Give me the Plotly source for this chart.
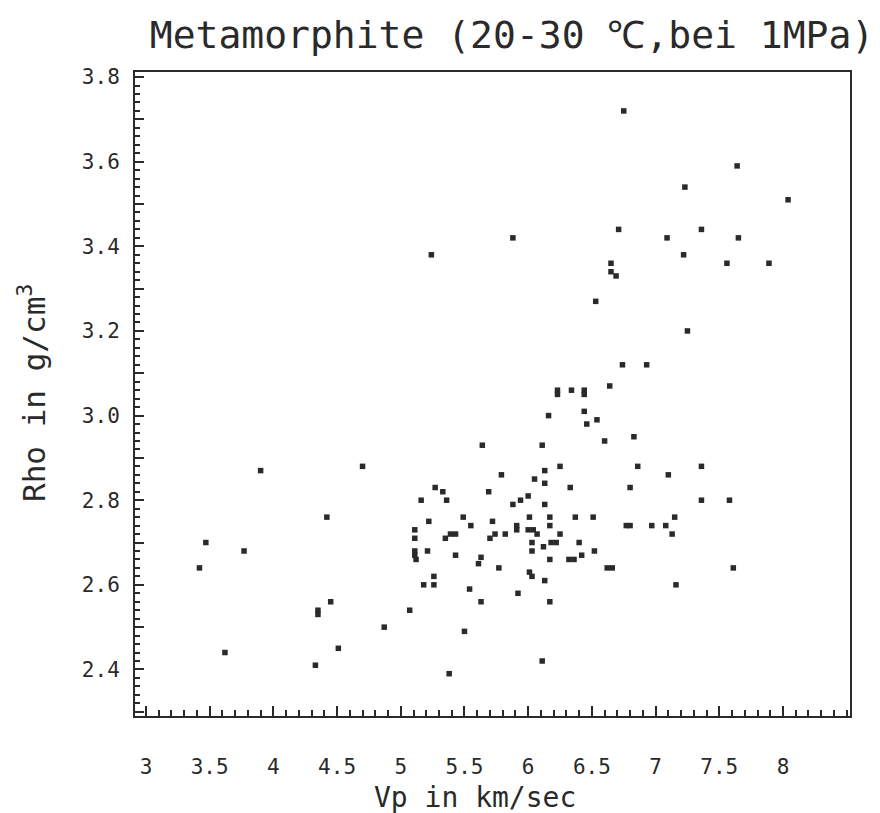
import plotly.graph_objects as go

vp = [5.24, 6.75, 7.64, 7.23, 8.04, 5.88, 6.71, 7.09, 7.36, 7.65,
      6.65, 6.65, 6.69, 7.22, 7.56, 7.89, 6.53, 7.25, 6.74, 6.93,
      6.64, 6.23, 6.23, 6.34, 6.44, 6.44, 6.16, 6.44, 6.46, 6.54,
      6.60, 6.83, 5.64, 6.11, 6.25, 6.86, 7.36, 5.79, 6.05, 6.13,
      6.13, 7.10, 6.33, 6.80, 5.69, 5.88, 5.94, 6.00, 6.13, 7.36,
      7.58, 5.72, 6.01, 6.17, 6.37, 6.51, 7.15, 5.91, 5.91, 6.00,
      6.04, 6.07, 6.17, 6.77, 6.80, 6.97, 7.08, 7.13, 5.70, 5.74,
      5.82, 6.25, 6.03, 6.12, 6.18, 6.22, 6.40, 6.03, 6.17, 6.32,
      6.36, 6.42, 6.52, 6.62, 6.66, 7.61, 5.77, 6.01, 6.03, 6.13,
      7.16, 5.92, 6.17, 5.63, 6.11,
      3.90, 4.70, 5.27, 5.33, 5.16, 5.36, 4.42, 5.22, 5.49, 5.55,
      5.11, 5.11, 5.35, 5.39, 5.43, 3.47, 3.77, 3.42, 5.21, 5.43,
      5.11, 5.11, 5.12, 5.61, 5.63, 5.26, 5.18, 5.26, 5.54, 4.45,
      4.35, 4.35, 5.07, 4.87, 5.50, 3.62, 4.51, 4.33, 5.38]

rho = [3.38, 3.72, 3.59, 3.54, 3.51, 3.42, 3.44, 3.42, 3.44, 3.42,
       3.36, 3.34, 3.33, 3.38, 3.36, 3.36, 3.27, 3.20, 3.12, 3.12,
       3.07, 3.06, 3.05, 3.06, 3.06, 3.05, 3.00, 3.01, 2.98, 2.99,
       2.94, 2.95, 2.93, 2.93, 2.88, 2.88, 2.88, 2.86, 2.85, 2.87,
       2.84, 2.86, 2.83, 2.83, 2.82, 2.79, 2.80, 2.81, 2.79, 2.80,
       2.80, 2.75, 2.76, 2.76, 2.76, 2.76, 2.76, 2.74, 2.73, 2.73,
       2.73, 2.72, 2.74, 2.74, 2.74, 2.74, 2.74, 2.72, 2.71, 2.72,
       2.72, 2.72, 2.70, 2.69, 2.70, 2.70, 2.70, 2.68, 2.66, 2.66,
       2.66, 2.67, 2.68, 2.64, 2.64, 2.64, 2.64, 2.63, 2.62, 2.61,
       2.60, 2.58, 2.56, 2.56, 2.42,
       2.87, 2.88, 2.83, 2.82, 2.80, 2.80, 2.76, 2.75, 2.76, 2.74,
       2.73, 2.71, 2.71, 2.72, 2.72, 2.70, 2.68, 2.64, 2.68, 2.67,
       2.68, 2.67, 2.66, 2.65, 2.665, 2.62, 2.60, 2.60, 2.59, 2.56,
       2.54, 2.53, 2.54, 2.50, 2.49, 2.44, 2.45, 2.41, 2.39]

x_tickvals = [3, 3.5, 4, 4.5, 5, 5.5, 6, 6.5, 7, 7.5, 8]
x_ticktext = ["3", "3.5", "4", "4.5", "5", "5.5", "6", "6.5", "7", "7.5", "8"]
y_tickvals = [2.4, 2.6, 2.8, 3.0, 3.2, 3.4, 3.6, 3.8]
y_ticktext = ["2.4", "2.6", "2.8", "3.0", "3.2", "3.4", "3.6", "3.8"]

title_text = "Metamorphite (20-30 ℃,bei 1MPa)"
x_title = "Vp in km/sec"
y_title = "Rho in g/cm<sup>3</sup>"

ink = "#2a2a2a"
mono = "DejaVu Sans Mono, Liberation Mono, monospace"
x_range = [2.914, 8.526]
y_range = [2.290, 3.812]

fig = go.Figure(go.Scatter(
    x=vp, y=rho, mode="markers",
    marker=dict(symbol="square", size=5.5, color=ink, line=dict(width=0)),
    showlegend=False,
))
# invisible trace on the secondary y axis so its 0.1 tick marks are drawn
fig.add_trace(go.Scatter(x=[], y=[], yaxis="y2", showlegend=False, hoverinfo="skip"))

fig.update_layout(
    width=880, height=813,
    margin=dict(l=135, r=30, t=72, b=97),
    paper_bgcolor="white", plot_bgcolor="white",
    font=dict(family=mono, color=ink),
    title=dict(text=title_text, xref="container", yref="container",
               x=512 / 880, y=1 - 35 / 813, xanchor="center", yanchor="middle",
               font=dict(size=38, family=mono, color=ink)),
    annotations=[
        dict(text=x_title, xref="paper", yref="paper",
             x=(475 - 135) / 715, y=-(797 - 716) / 644,
             xanchor="center", yanchor="middle", showarrow=False,
             font=dict(size=28, family=mono, color=ink)),
        dict(text=y_title, xref="paper", yref="paper",
             x=-(135 - 32) / 715, y=(716 - 393) / 644, textangle=-90,
             xanchor="center", yanchor="middle", showarrow=False,
             font=dict(size=31, family=mono, color=ink)),
    ],
    yaxis2=dict(
        overlaying="y", side="left", range=y_range, showgrid=False, zeroline=False,
        showline=False, showticklabels=False,
        tickmode="linear", tick0=2.3, dtick=0.1,
        ticks="inside", ticklen=9, tickwidth=2, tickcolor=ink,
    ),
)

fig.update_xaxes(
    range=x_range, showgrid=False, zeroline=False,
    showline=True, linecolor=ink, linewidth=2, mirror=True,
    tickmode="array", tickvals=x_tickvals, ticktext=x_ticktext,
    ticks="inside", ticklen=10, tickwidth=2, tickcolor=ink,
    ticklabelstandoff=31,
    tickfont=dict(size=21, family=mono, color=ink),
    minor=dict(dtick=0.1, tick0=3, ticks="inside", ticklen=6, tickwidth=1.5, tickcolor=ink),
)
fig.update_yaxes(
    selector=dict(overlaying=None),
    range=y_range, showgrid=False, zeroline=False,
    showline=True, linecolor=ink, linewidth=2, mirror=True,
    tickmode="array", tickvals=y_tickvals, ticktext=y_ticktext,
    ticks="inside", ticklen=9, tickwidth=2, tickcolor=ink,
    ticklabelstandoff=9,
    tickfont=dict(size=21, family=mono, color=ink),
    minor=dict(dtick=0.02, tick0=2.3, ticks="inside", ticklen=5, tickwidth=1.5, tickcolor=ink),
)

fig.write_html("out.html")
